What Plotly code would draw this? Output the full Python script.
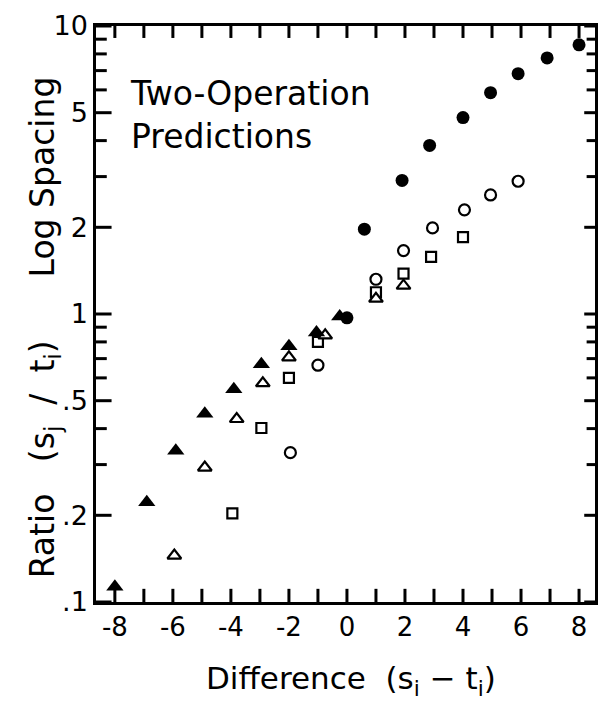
import plotly.graph_objects as go

# ---- data ----
filled_circle_x = [0.0, 0.6, 1.9, 2.85, 4.0, 4.95, 5.9, 6.9, 8.0]
filled_circle_y = [0.97, 1.97, 2.91, 3.85, 4.81, 5.87, 6.83, 7.75, 8.6]

open_circle_x = [-1.95, -1.0, 1.0, 1.95, 2.95, 4.05, 4.95, 5.9]
open_circle_y = [0.33, 0.664, 1.32, 1.66, 1.99, 2.30, 2.59, 2.89]

open_square_x = [-3.95, -2.95, -2.0, -1.0, 1.0, 1.95, 2.9, 4.0]
open_square_y = [0.203, 0.402, 0.60, 0.80, 1.19, 1.38, 1.58, 1.85]

open_tri_x = [-5.95, -4.9, -3.8, -2.9, -2.0, -0.75, 1.0, 1.95]
open_tri_y = [0.145, 0.293, 0.432, 0.575, 0.707, 0.843, 1.13, 1.254]

filled_tri_x = [-8.0, -6.9, -5.9, -4.9, -3.9, -2.95, -2.0, -1.05, -0.25]
filled_tri_y = [0.113, 0.222, 0.335, 0.45, 0.548, 0.669, 0.772, 0.863, 0.98]

x_label_vals = [-8, -6, -4, -2, 0, 2, 4, 6, 8]
x_label_text = ["-8", "-6", "-4", "-2", "0", "2", "4", "6", "8"]
x_tick_vals = list(range(-8, 9))
y_tick_vals = [0.1, 0.2, 0.5, 1, 2, 5, 10]
y_tick_text = [".1", ".2", ".5", "1", "2", "5", "10"]
y_minor_vals = [0.3, 0.4, 0.6, 0.7, 0.8, 0.9, 3, 4, 6, 7, 8, 9]

FONT = "DejaVu Sans"
X_RANGE = [-8.65, 8.55]
Y_RANGE = [-1, 1]          # log10 of 0.1 .. 10
W, H = 608, 703
ML, MR, MT, MB = 96, 10, 23, 101
PW, PH = W - ML - MR, H - MT - MB
NB = "\u00a0"
TW = 3

xpp = (X_RANGE[1] - X_RANGE[0]) / PW   # x units per pixel
ypp = (Y_RANGE[1] - Y_RANGE[0]) / PH   # log10 decades per pixel

fig = go.Figure()

# ---- tick marks (inside, all four sides) drawn as line-shaped markers ----
def tick_marks(xs, ys, symbol, size):
    fig.add_trace(go.Scatter(
        x=xs, y=ys, mode="markers",
        marker=dict(symbol=symbol, size=size, color="black",
                    line=dict(color="black", width=TW)),
        showlegend=False, hoverinfo="skip", cliponaxis=False))

n = len(x_tick_vals)
tick_marks(x_tick_vals, [10 ** (Y_RANGE[0] + 5.5 * ypp)] * n, "line-ns", 11)
tick_marks(x_tick_vals, [10 ** (Y_RANGE[1] - 5 * ypp)] * n, "line-ns", 10)
for vals, lenl, lenr in [(y_tick_vals, 13, 9), (y_minor_vals, 9, 7)]:
    m = len(vals)
    tick_marks([X_RANGE[0] + lenl / 2 * xpp] * m, vals, "line-ew", lenl)
    tick_marks([X_RANGE[1] - lenr / 2 * xpp] * m, vals, "line-ew", lenr)

# ---- data markers ----
def add(xs, ys, symbol, size, filled, lw=2.2):
    fig.add_trace(go.Scatter(
        x=xs, y=ys, mode="markers",
        marker=dict(symbol=symbol, size=size,
                    color="black" if filled else "white",
                    line=dict(color="black", width=0 if filled else lw)),
        showlegend=False, cliponaxis=False))

add(open_circle_x, open_circle_y, "circle", 11, False)
add(open_square_x, open_square_y, "square", 10, False)
add(open_tri_x, open_tri_y, "triangle-up", 12, False)
add(filled_tri_x, filled_tri_y, "triangle-up", 15, True)
add(filled_circle_x, filled_circle_y, "circle", 13, True)

fig.update_layout(
    width=W, height=H,
    margin=dict(l=ML, r=MR, t=MT, b=MB),
    paper_bgcolor="white", plot_bgcolor="white",
    font=dict(family=FONT, color="black"),
    xaxis=dict(
        range=X_RANGE, showgrid=False, zeroline=False,
        showline=True, linecolor="black", linewidth=2.5, mirror=True,
        ticks="", tickmode="array", tickvals=x_label_vals, ticktext=x_label_text,
        tickfont=dict(size=26, family=FONT),
    ),
    yaxis=dict(
        type="log", range=Y_RANGE, showgrid=False, zeroline=False,
        showline=True, linecolor="black", linewidth=2.5, mirror=True,
        ticks="", tickmode="array", tickvals=y_tick_vals, ticktext=y_tick_text,
        tickfont=dict(size=27, family=FONT),
    ),
)

fig.add_annotation(
    text="Difference" + NB * 2 + "(s<sub>i</sub>" + NB + "\u2212" + NB + "t<sub>i</sub>)",
    xref="paper", yref="paper", x=0.512, y=-0.098, xanchor="center", yanchor="top",
    showarrow=False, font=dict(size=31, family=FONT))
fig.add_annotation(
    text="Ratio" + NB * 3 + "(s<sub>j</sub>" + NB * 2 + "/" + NB * 2 + "t<sub>i</sub>)"
         + NB * 6 + "Log" + NB + "Spacing",
    xref="paper", yref="paper", x=-0.104, y=0.477, xanchor="center", yanchor="middle",
    textangle=-90, showarrow=False, font=dict(size=33, family=FONT))
fig.add_annotation(
    text="Two-Operation<br>Predictions",
    xref="paper", yref="paper", x=0.065, y=0.92, xanchor="left", yanchor="top",
    align="left", showarrow=False, font=dict(size=33, family=FONT))

fig.write_html("out.html")
